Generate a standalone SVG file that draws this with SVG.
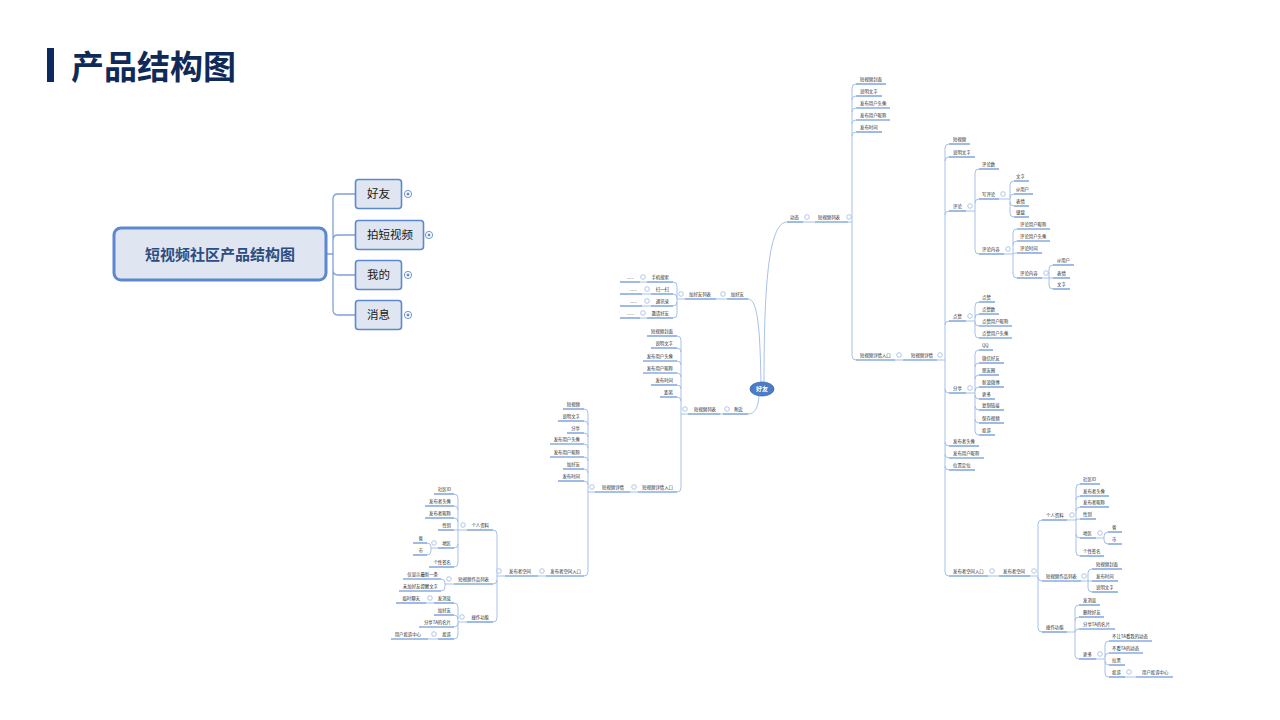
<svg xmlns="http://www.w3.org/2000/svg" width="1280" height="720" viewBox="0 0 1280 720">
<style>
.t{font-family:"Noto Sans CJK SC","Noto Sans",sans-serif;font-size:4.4px;fill:#2a2a2a}
.e{text-anchor:end}
.u{stroke:#4f83d4;stroke-width:1.1;fill:none}
.c{stroke:#9db9e6;stroke-width:0.9;fill:none}
.h{fill:#fff;stroke:#8fb0e0;stroke-width:0.7}
.b{fill:#dfe6f1;stroke:#5b88cf;stroke-width:1.6}
.bt{font-family:"Noto Sans CJK SC",sans-serif;font-size:11.5px;fill:#1a1a1a}
.p{fill:#fff;stroke:#5b88cf;stroke-width:0.9}
.pl{stroke:#2d4c7f;stroke-width:0.8}
</style>
<rect width="1280" height="720" fill="#fff"/>
<g id="title">
<rect x="47" y="48" width="7" height="34" fill="#0c2a5c"/>
<text x="71" y="79" font-family="Noto Sans CJK SC,sans-serif" font-size="33" font-weight="bold" fill="#0f2a58">产品结构图</text>
</g>
<g id="left-connectors" fill="none" stroke="#7ea0d6" stroke-width="1.3">
<path d="M326,254 H333 M333,254 V199 Q333,194 338,194 H355 M333,254 V240 Q333,235 338,235 H355 M333,254 V270 Q333,275 338,275 H355 M333,254 V310 Q333,315 338,315 H355"/>
</g>
<g id="root">
<rect x="114" y="228" width="212" height="52" rx="7" fill="#dfe6f1" stroke="#5b88cf" stroke-width="3"/>
<text x="220" y="260" text-anchor="middle" font-family="Noto Sans CJK SC,sans-serif" font-size="15" font-weight="bold" fill="#2d4c7f">短视频社区产品结构图</text>
</g>
<g id="b-haoyou"><rect class="b" x="355.5" y="179.5" width="46" height="29" rx="3"/><text class="bt" x="367" y="198">好友</text><circle class="p" cx="408" cy="194" r="3.6"/><path class="pl" d="M406.5,194 H409.5 M408,192.5 V195.5"/></g>
<g id="b-paishipin"><rect class="b" x="355.5" y="220.5" width="68" height="29" rx="3"/><text class="bt" x="367" y="239">拍短视频</text><circle class="p" cx="429" cy="235" r="3.6"/><path class="pl" d="M427.5,235 H430.5 M429,233.5 V236.5"/></g>
<g id="b-wode"><rect class="b" x="355.5" y="260.5" width="46" height="29" rx="3"/><text class="bt" x="367" y="279">我的</text><circle class="p" cx="408" cy="275" r="3.6"/><path class="pl" d="M406.5,275 H409.5 M408,273.5 V276.5"/></g>
<g id="b-xiaoxi"><rect class="b" x="355.5" y="300.5" width="46" height="29" rx="3"/><text class="bt" x="367" y="319">消息</text><circle class="p" cx="408" cy="315" r="3.6"/><path class="pl" d="M406.5,315 H409.5 M408,313.5 V316.5"/></g>

<g id="connectors">
<path class="c" d="M764,383 C764,290 768,222 787,222"/>
<path class="c" d="M761,383 C760,330 758,299 748,299"/>
<path class="c" d="M759,396 C758,408 755,414 748,414"/>
<path class="c" d="M803,222 H815 M848,222 H852 M852,88 V356 M852,88 Q852,84 856,84 M852,100 Q852,96 856,96 M852,112 Q852,108 856,108 M852,124 Q852,120 856,120 M852,136 Q852,132 856,132 M852,356 Q852,360 856,360"/>
<path class="c" d="M895,360 H903 M937,360 H945 M945,148 V572 M945,148 Q945,144 949,144 M945,161 Q945,157 949,157 M945,215 Q945,211 949,211 M945,325 Q945,321 949,321 M945,389 Q945,393 949,393 M945,442 Q945,446 949,446 M945,454 Q945,458 949,458 M945,466 Q945,470 949,470 M945,572 Q945,576 949,576"/>
<path class="c" d="M966,211 H975 M975,173 V250 M975,173 Q975,169 979,169 M975,203 Q975,199 979,199 M975,250 Q975,254 979,254"/>
<path class="c" d="M999,199 H1010 M1010,185 V213 M1010,185 Q1010,181 1014,181 M1010,198 Q1010,194 1014,194 M1010,202 Q1010,206 1014,206 M1010,213 Q1010,217 1014,217"/>
<path class="c" d="M1004,254 H1013 M1013,233 V274 M1013,233 Q1013,229 1017,229 M1013,245 Q1013,241 1017,241 M1013,254 Q1013,253 1017,253 M1013,274 Q1013,278 1017,278"/>
<path class="c" d="M1042,278 H1053 M1049,269 V285 M1049,269 Q1049,265 1053,265 M1049,285 Q1049,289 1053,289"/>
<path class="c" d="M966,321 H975 M975,306 V334 M975,306 Q975,302 979,302 M975,318 Q975,314 979,314 M975,322 Q975,326 979,326 M975,334 Q975,338 979,338"/>
<path class="c" d="M966,393 H975 M975,354 V431 M975,354 Q975,350 979,350 M975,367 Q975,363 979,363 M975,379 Q975,375 979,375 M975,391 Q975,387 979,387 M975,395 Q975,399 979,399 M975,406 Q975,410 979,410 M975,419 Q975,423 979,423 M975,431 Q975,435 979,435"/>
<path class="c" d="M988,576 H999 M1030,576 H1038 M1038,524 V628 M1038,524 Q1038,520 1042,520 M1038,577 Q1038,581 1042,581 M1038,628 Q1038,632 1042,632"/>
<path class="c" d="M1067,520 H1076 M1076,488 V552 M1076,488 Q1076,484 1080,484 M1076,500 Q1076,496 1080,496 M1076,511 Q1076,507 1080,507 M1076,520 Q1076,519 1080,519 M1076,534 Q1076,538 1080,538 M1076,552 Q1076,556 1080,556"/>
<path class="c" d="M1096,538 H1104 M1104,536 V540 M1104,536 Q1104,532 1108,532 M1104,540 Q1104,544 1108,544"/>
<path class="c" d="M1081,581 H1092 M1088,573 V588 M1088,573 Q1088,569 1092,569 M1088,588 Q1088,592 1092,592"/>
<path class="c" d="M1067,632 H1075 M1075,609 V655 M1075,609 Q1075,605 1079,605 M1075,621 Q1075,617 1079,617 M1075,632 Q1075,629 1079,629 M1075,655 Q1075,659 1079,659"/>
<path class="c" d="M1096,659 H1105 M1105,645 V673 M1105,645 Q1105,641 1109,641 M1105,657 Q1105,653 1109,653 M1105,661 Q1105,665 1109,665 M1105,673 Q1105,677 1109,677 M1125,677 H1136"/>
<path class="c" d="M716,299 H727 M685,299 H677 M677,286 V314 M677,286 Q677,282 673,282 M677,298 Q677,294 673,294 M677,302 Q677,306 673,306 M677,314 Q677,318 673,318 M640,282 H647 M642,294 H651 M642,306 H651 M640,318 H647"/>
<path class="c" d="M720,414 H723 M688,414 H681 M681,340 V488 M681,340 Q681,336 677,336 M681,352 Q681,348 677,348 M681,365 Q681,361 677,361 M681,377 Q681,373 677,373 M681,389 Q681,385 677,385 M681,401 Q681,397 677,397 M681,488 Q681,492 677,492"/>
<path class="c" d="M630,492 H638 M595,492 H588 M588,413 V572 M588,413 Q588,409 584,409 M588,425 Q588,421 584,421 M588,437 Q588,433 584,433 M588,448 Q588,444 584,444 M588,461 Q588,457 584,457 M588,473 Q588,469 584,469 M588,485 Q588,481 584,481 M588,572 Q588,576 584,576"/>
<path class="c" d="M538,576 H546 M505,576 H497 M497,534 V618 M497,534 Q497,530 493,530 M497,580 Q497,584 493,584 M497,618 Q497,622 493,622"/>
<path class="c" d="M467,530 H458 M458,498 V563 M458,498 Q458,494 454,494 M458,510 Q458,506 454,506 M458,522 Q458,518 454,518 M458,530 H454 M458,544 Q458,548 454,548 M458,563 Q458,567 454,567"/>
<path class="c" d="M438,548 H431 M431,547 V551 M431,547 Q431,543 427,543 M431,551 Q431,555 427,555"/>
<path class="c" d="M454,584 H445 M445,583 V587 M445,583 Q445,579 441,579 M445,587 Q445,591 441,591"/>
<path class="c" d="M467,622 H458 M458,607 V635 M458,607 Q458,603 454,603 M458,619 Q458,615 454,615 M458,623 Q458,627 454,627 M458,635 Q458,639 454,639 M426,603 H434 M428,639 H438"/>
</g>

<g id="center"><ellipse cx="762" cy="389" rx="12" ry="7" fill="#4a7cc8" stroke="#3a68b0" stroke-width="0.8"/><text x="762" y="391.2" text-anchor="middle" font-family="Noto Sans CJK SC,sans-serif" font-size="6" font-weight="bold" fill="#fff">好友</text></g>

<g id="r-dongtai"><text class="t" x="790" y="219">动态</text><path class="u" d="M787,222 H803"/><circle class="h" cx="807" cy="217" r="2.3"/></g>
<g id="r-list"><text class="t" x="818" y="219">短视频列表</text><path class="u" d="M815,222 H848"/><circle class="h" cx="849" cy="217" r="2.3"/></g>
<g id="r-l1"><text class="t" x="860" y="81">短视频封面</text><path class="u" d="M856,84 H886"/></g>
<g id="r-l2"><text class="t" x="860" y="93">说明文字</text><path class="u" d="M856,96 H882"/></g>
<g id="r-l3"><text class="t" x="860" y="105">发布用户头像</text><path class="u" d="M856,108 H890"/></g>
<g id="r-l4"><text class="t" x="860" y="117">发布用户昵称</text><path class="u" d="M856,120 H890"/></g>
<g id="r-l5"><text class="t" x="860" y="129">发布时间</text><path class="u" d="M856,132 H882"/></g>
<g id="r-entry"><text class="t" x="860" y="357">短视频详情入口</text><path class="u" d="M856,360 H895"/><circle class="h" cx="899" cy="355" r="2.3"/></g>
<g id="r-detail"><text class="t" x="911" y="357">短视频详情</text><path class="u" d="M903,360 H937"/><circle class="h" cx="940" cy="355" r="2.3"/></g>
<g id="r-d1"><text class="t" x="953" y="141">短视频</text><path class="u" d="M949,144 H970"/></g>
<g id="r-d2"><text class="t" x="953" y="154">说明文字</text><path class="u" d="M949,157 H975"/></g>
<g id="r-pinglun"><text class="t" x="953" y="208">评论</text><path class="u" d="M949,211 H966"/><circle class="h" cx="970" cy="206" r="2.3"/></g>
<g id="r-pl1"><text class="t" x="982" y="166">评论数</text><path class="u" d="M979,169 H999"/></g>
<g id="r-pl2"><text class="t" x="982" y="196">写评论</text><path class="u" d="M979,199 H999"/><circle class="h" cx="1003" cy="194" r="2.3"/></g>
<g id="r-w1"><text class="t" x="1016" y="178">文字</text><path class="u" d="M1014,181 H1029"/></g>
<g id="r-w2"><text class="t" x="1016" y="191">@用户</text><path class="u" d="M1014,194 H1033"/></g>
<g id="r-w3"><text class="t" x="1016" y="203">表情</text><path class="u" d="M1014,206 H1029"/></g>
<g id="r-w4"><text class="t" x="1016" y="214">键盘</text><path class="u" d="M1014,217 H1029"/></g>
<g id="r-pl3"><text class="t" x="982" y="251">评论内容</text><path class="u" d="M979,254 H1004"/><circle class="h" cx="1008" cy="249" r="2.3"/></g>
<g id="r-c1"><text class="t" x="1020" y="226">评论用户昵称</text><path class="u" d="M1017,229 H1050"/></g>
<g id="r-c2"><text class="t" x="1020" y="238">评论用户头像</text><path class="u" d="M1017,241 H1050"/></g>
<g id="r-c3"><text class="t" x="1020" y="250">评论时间</text><path class="u" d="M1017,253 H1042"/></g>
<g id="r-c4"><text class="t" x="1020" y="275">评论内容</text><path class="u" d="M1017,278 H1042"/><circle class="h" cx="1046" cy="273" r="2.3"/></g>
<g id="r-cc1"><text class="t" x="1057" y="262">@用户</text><path class="u" d="M1053,265 H1074"/></g>
<g id="r-cc2"><text class="t" x="1057" y="275">表情</text><path class="u" d="M1053,278 H1070"/></g>
<g id="r-cc3"><text class="t" x="1057" y="286">文字</text><path class="u" d="M1053,289 H1070"/></g>
<g id="r-dianzan"><text class="t" x="953" y="318">点赞</text><path class="u" d="M949,321 H966"/><circle class="h" cx="970" cy="316" r="2.3"/></g>
<g id="r-z1"><text class="t" x="982" y="299">点赞</text><path class="u" d="M979,302 H995"/></g>
<g id="r-z2"><text class="t" x="982" y="311">点赞数</text><path class="u" d="M979,314 H999"/></g>
<g id="r-z3"><text class="t" x="982" y="323">点赞用户昵称</text><path class="u" d="M979,326 H1012"/></g>
<g id="r-z4"><text class="t" x="982" y="335">点赞用户头像</text><path class="u" d="M979,338 H1012"/></g>
<g id="r-fenxiang"><text class="t" x="953" y="390">分享</text><path class="u" d="M949,393 H966"/><circle class="h" cx="970" cy="388" r="2.3"/></g>
<g id="r-s1"><text class="t" x="982" y="347">QQ</text><path class="u" d="M979,350 H993"/></g>
<g id="r-s2"><text class="t" x="982" y="360">微信好友</text><path class="u" d="M979,363 H1004"/></g>
<g id="r-s3"><text class="t" x="982" y="372">朋友圈</text><path class="u" d="M979,375 H999"/></g>
<g id="r-s4"><text class="t" x="982" y="384">新浪微博</text><path class="u" d="M979,387 H1004"/></g>
<g id="r-s5"><text class="t" x="982" y="396">更多</text><path class="u" d="M979,399 H995"/></g>
<g id="r-s6"><text class="t" x="982" y="407">复制链接</text><path class="u" d="M979,410 H1004"/></g>
<g id="r-s7"><text class="t" x="982" y="420">保存视频</text><path class="u" d="M979,423 H1004"/></g>
<g id="r-s8"><text class="t" x="982" y="432">投诉</text><path class="u" d="M979,435 H995"/></g>
<g id="r-d6"><text class="t" x="953" y="443">发布者头像</text><path class="u" d="M949,446 H979"/></g>
<g id="r-d7"><text class="t" x="953" y="455">发布用户昵称</text><path class="u" d="M949,458 H984"/></g>
<g id="r-d8"><text class="t" x="953" y="467">位置定位</text><path class="u" d="M949,470 H975"/></g>
<g id="r-spentry"><text class="t" x="953" y="573">发布者空间入口</text><path class="u" d="M949,576 H988"/><circle class="h" cx="992" cy="571" r="2.3"/></g>
<g id="r-space"><text class="t" x="1003" y="573">发布者空间</text><path class="u" d="M999,576 H1030"/><circle class="h" cx="1034" cy="571" r="2.3"/></g>
<g id="r-profile"><text class="t" x="1046" y="517">个人资料</text><path class="u" d="M1042,520 H1067"/><circle class="h" cx="1072" cy="515" r="2.3"/></g>
<g id="r-p1"><text class="t" x="1083" y="481">社区ID</text><path class="u" d="M1080,484 H1100"/></g>
<g id="r-p2"><text class="t" x="1083" y="493">发布者头像</text><path class="u" d="M1080,496 H1109"/></g>
<g id="r-p3"><text class="t" x="1083" y="504">发布者昵称</text><path class="u" d="M1080,507 H1109"/></g>
<g id="r-p4"><text class="t" x="1083" y="516">性别</text><path class="u" d="M1080,519 H1096"/></g>
<g id="r-p5"><text class="t" x="1083" y="535">地区</text><path class="u" d="M1080,538 H1096"/><circle class="h" cx="1100" cy="533" r="2.3"/></g>
<g id="r-a1"><text class="t" x="1112" y="529">省</text><path class="u" d="M1108,532 H1122"/></g>
<g id="r-a2"><text class="t" x="1112" y="541">市</text><path class="u" d="M1108,544 H1122"/></g>
<g id="r-p6"><text class="t" x="1083" y="553">个性签名</text><path class="u" d="M1080,556 H1104"/></g>
<g id="r-works"><text class="t" x="1046" y="578">短视频作品列表</text><path class="u" d="M1042,581 H1081"/><circle class="h" cx="1084" cy="576" r="2.3"/></g>
<g id="r-wk1"><text class="t" x="1096" y="566">短视频封面</text><path class="u" d="M1092,569 H1122"/></g>
<g id="r-wk2"><text class="t" x="1096" y="578">发布时间</text><path class="u" d="M1092,581 H1118"/></g>
<g id="r-wk3"><text class="t" x="1096" y="589">说明文字</text><path class="u" d="M1092,592 H1118"/></g>
<g id="r-ops"><text class="t" x="1046" y="629">操作功能</text><path class="u" d="M1042,632 H1067"/></g>
<g id="r-o1"><text class="t" x="1083" y="602">发消息</text><path class="u" d="M1079,605 H1100"/></g>
<g id="r-o2"><text class="t" x="1083" y="614">删除好友</text><path class="u" d="M1079,617 H1104"/></g>
<g id="r-o3"><text class="t" x="1083" y="626">分享TA的名片</text><path class="u" d="M1079,629 H1115"/></g>
<g id="r-o4"><text class="t" x="1083" y="656">更多</text><path class="u" d="M1079,659 H1096"/><circle class="h" cx="1100" cy="654" r="2.3"/></g>
<g id="r-m1"><text class="t" x="1112" y="638">不让TA看我的动态</text><path class="u" d="M1109,641 H1152"/></g>
<g id="r-m2"><text class="t" x="1112" y="650">不看TA的动态</text><path class="u" d="M1109,653 H1143"/></g>
<g id="r-m3"><text class="t" x="1112" y="662">拉黑</text><path class="u" d="M1109,665 H1125"/></g>
<g id="r-m4"><text class="t" x="1112" y="674">投诉</text><path class="u" d="M1109,677 H1125"/><circle class="h" cx="1129" cy="672" r="2.3"/></g>
<g id="r-m5"><text class="t" x="1142" y="674">用户投诉中心</text><path class="u" d="M1136,677 H1173"/></g>

<g id="l-add"><text class="t e" x="744" y="296">加好友</text><path class="u" d="M727,299 H748"/><circle class="h" cx="723" cy="294" r="2.3"/></g>
<g id="l-addlist"><text class="t e" x="711" y="296">加好友列表</text><path class="u" d="M685,299 H716"/><circle class="h" cx="681" cy="294" r="2.3"/></g>
<g id="l-a1"><text class="t e" x="669" y="279">手机搜索</text><path class="u" d="M647,282 H673"/><circle class="h" cx="643" cy="277" r="2.3"/></g>
<g id="l-a1d"><text class="t e" x="634" y="279">......</text><path class="u" d="M620,282 H640"/></g>
<g id="l-a2"><text class="t e" x="669" y="291">扫一扫</text><path class="u" d="M651,294 H673"/><circle class="h" cx="647" cy="289" r="2.3"/></g>
<g id="l-a2d"><text class="t e" x="637" y="291">......</text><path class="u" d="M620,294 H642"/></g>
<g id="l-a3"><text class="t e" x="669" y="303">通讯录</text><path class="u" d="M651,306 H673"/><circle class="h" cx="647" cy="301" r="2.3"/></g>
<g id="l-a3d"><text class="t e" x="637" y="303">......</text><path class="u" d="M620,306 H642"/></g>
<g id="l-a4"><text class="t e" x="669" y="315">邀请好友</text><path class="u" d="M647,318 H673"/><circle class="h" cx="643" cy="313" r="2.3"/></g>
<g id="l-a4d"><text class="t e" x="634" y="315">......</text><path class="u" d="M620,318 H640"/></g>
<g id="l-nearby"><text class="t e" x="743" y="411">附近</text><path class="u" d="M723,414 H748"/><circle class="h" cx="727" cy="409" r="2.3"/></g>
<g id="l-list"><text class="t e" x="716" y="411">短视频列表</text><path class="u" d="M688,414 H720"/><circle class="h" cx="685" cy="409" r="2.3"/></g>
<g id="l-l1"><text class="t e" x="673" y="333">短视频封面</text><path class="u" d="M647,336 H677"/></g>
<g id="l-l2"><text class="t e" x="673" y="345">说明文字</text><path class="u" d="M651,348 H677"/></g>
<g id="l-l3"><text class="t e" x="673" y="358">发布用户头像</text><path class="u" d="M643,361 H677"/></g>
<g id="l-l4"><text class="t e" x="673" y="370">发布用户昵称</text><path class="u" d="M643,373 H677"/></g>
<g id="l-l5"><text class="t e" x="673" y="382">发布时间</text><path class="u" d="M651,385 H677"/></g>
<g id="l-l6"><text class="t e" x="673" y="394">距离</text><path class="u" d="M660,397 H677"/></g>
<g id="l-entry"><text class="t e" x="673" y="489">短视频详情入口</text><path class="u" d="M638,492 H677"/><circle class="h" cx="634" cy="487" r="2.3"/></g>
<g id="l-detail"><text class="t e" x="624" y="489">短视频详情</text><path class="u" d="M595,492 H630"/><circle class="h" cx="592" cy="487" r="2.3"/></g>
<g id="l-d1"><text class="t e" x="580" y="406">短视频</text><path class="u" d="M563,409 H584"/></g>
<g id="l-d2"><text class="t e" x="580" y="418">说明文字</text><path class="u" d="M558,421 H584"/></g>
<g id="l-d3"><text class="t e" x="580" y="430">分享</text><path class="u" d="M567,433 H584"/></g>
<g id="l-d4"><text class="t e" x="580" y="441">发布用户头像</text><path class="u" d="M550,444 H584"/></g>
<g id="l-d5"><text class="t e" x="580" y="454">发布用户昵称</text><path class="u" d="M550,457 H584"/></g>
<g id="l-d6"><text class="t e" x="580" y="466">加好友</text><path class="u" d="M563,469 H584"/></g>
<g id="l-d7"><text class="t e" x="580" y="478">发布时间</text><path class="u" d="M558,481 H584"/></g>
<g id="l-spentry"><text class="t e" x="581" y="573">发布者空间入口</text><path class="u" d="M546,576 H584"/><circle class="h" cx="542" cy="571" r="2.3"/></g>
<g id="l-space"><text class="t e" x="531" y="573">发布者空间</text><path class="u" d="M505,576 H538"/><circle class="h" cx="499" cy="571" r="2.3"/></g>
<g id="l-profile"><text class="t e" x="489" y="527">个人资料</text><path class="u" d="M467,530 H493"/><circle class="h" cx="463" cy="525" r="2.3"/></g>
<g id="l-p1"><text class="t e" x="451" y="491">社区ID</text><path class="u" d="M434,494 H454"/></g>
<g id="l-p2"><text class="t e" x="451" y="503">发布者头像</text><path class="u" d="M425,506 H454"/></g>
<g id="l-p3"><text class="t e" x="451" y="515">发布者昵称</text><path class="u" d="M425,518 H454"/></g>
<g id="l-p4"><text class="t e" x="451" y="527">性别</text><path class="u" d="M438,530 H454"/></g>
<g id="l-p5"><text class="t e" x="451" y="545">地区</text><path class="u" d="M438,548 H454"/><circle class="h" cx="434" cy="543" r="2.3"/></g>
<g id="l-a-1"><text class="t e" x="423" y="540">省</text><path class="u" d="M413,543 H427"/></g>
<g id="l-a-2"><text class="t e" x="423" y="552">市</text><path class="u" d="M413,555 H427"/></g>
<g id="l-p6"><text class="t e" x="451" y="564">个性签名</text><path class="u" d="M429,567 H454"/></g>
<g id="l-works"><text class="t e" x="489" y="581">短视频作品列表</text><path class="u" d="M454,584 H493"/><circle class="h" cx="449" cy="579" r="2.3"/></g>
<g id="l-wk1"><text class="t e" x="438" y="576">仅显示最新一条</text><path class="u" d="M403,579 H441"/></g>
<g id="l-wk2"><text class="t e" x="438" y="588">未加好友提醒文字</text><path class="u" d="M399,591 H441"/></g>
<g id="l-ops"><text class="t e" x="489" y="619">操作功能</text><path class="u" d="M467,622 H493"/><circle class="h" cx="462" cy="617" r="2.3"/></g>
<g id="l-o1"><text class="t e" x="451" y="600">发消息</text><path class="u" d="M434,603 H454"/><circle class="h" cx="430" cy="598" r="2.3"/></g>
<g id="l-o1a"><text class="t e" x="420" y="600">临时聊天</text><path class="u" d="M396,603 H426"/></g>
<g id="l-o2"><text class="t e" x="451" y="612">加好友</text><path class="u" d="M434,615 H454"/></g>
<g id="l-o3"><text class="t e" x="451" y="624">分享TA的名片</text><path class="u" d="M419,627 H454"/></g>
<g id="l-o4"><text class="t e" x="451" y="636">投诉</text><path class="u" d="M438,639 H454"/><circle class="h" cx="434" cy="634" r="2.3"/></g>
<g id="l-o4a"><text class="t e" x="421" y="636">用户投诉中心</text><path class="u" d="M391,639 H428"/></g>
</svg>
